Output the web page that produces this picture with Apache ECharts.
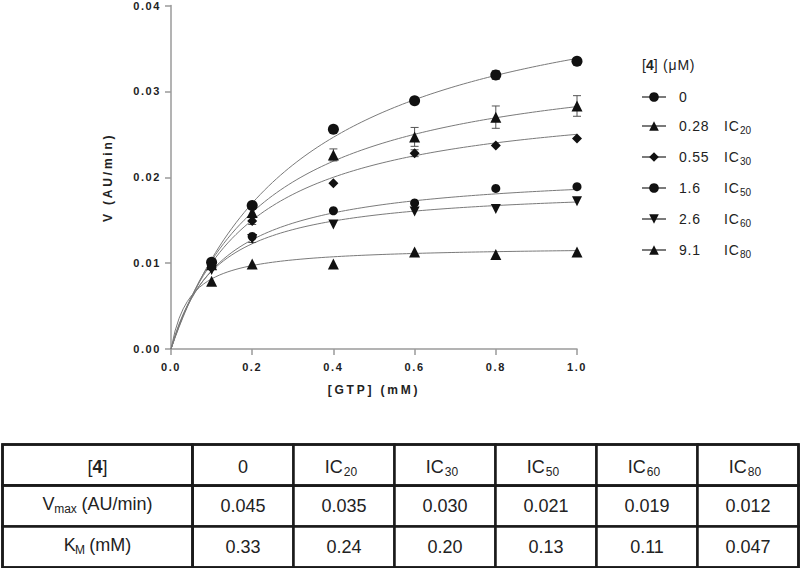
<!DOCTYPE html>
<html>
<head>
<meta charset="utf-8">
<script src="https://cdn.jsdelivr.net/npm/echarts@6/dist/echarts.min.js"></script>
<style>
html, body { margin: 0; padding: 0; background: #fff; }
#c { width: 800px; height: 568px; }
#c text[style*="11px"][style*="bold"] { letter-spacing: 1.6px; }
#c text[style*="12px"][style*="bold"] { letter-spacing: 2.8px; }
#c text[style*="14px"] { letter-spacing: 0.8px; }
</style>
</head>
<body>
<div id="c"></div>
<script>
// ---- data ----
const xGTP = [0.1, 0.2, 0.4, 0.6, 0.8, 1.0];
const concLabels = ['0', '0.28', '0.55', '1.6', '2.6', '9.1'];
const icLabels = ['0', 'IC20', 'IC30', 'IC50', 'IC60', 'IC80'];

const v0  = [0.0101, 0.0167, 0.0256, 0.0289, 0.0319, 0.0335];
const v20 = [0.0098, 0.0159, 0.0226, 0.0247, 0.0270, 0.0283];
const v30 = [0.0095, 0.0149, 0.0193, 0.0228, 0.0237, 0.0245];
const v50 = [0.0096, 0.0131, 0.0161, 0.0170, 0.0187, 0.0189];
const v60 = [0.0092, 0.0128, 0.0145, 0.0160, 0.0163, 0.0172];
const v80 = [0.0079, 0.0099, 0.0099, 0.0113, 0.0110, 0.0113];

const e0  = [0, 0, 0, 0.0002, 0.0005, 0];
const e20 = [0, 0.0004, 0.0007, 0.0011, 0.0013, 0.0012];
const e30 = [0, 0.0004, 0, 0.0004, 0, 0];
const e50 = [0, 0, 0, 0, 0, 0];
const e60 = [0, 0.0004, 0, 0, 0, 0];
const e80 = [0, 0, 0, 0, 0, 0];

// table values (as printed)
const tableHeader = '[4]';
const rowLabels = ['Vmax (AU/min)', 'KM (mM)'];
const vmaxText = ['0.045', '0.035', '0.030', '0.021', '0.019', '0.012'];
const kmText   = ['0.33', '0.24', '0.20', '0.13', '0.11', '0.047'];

const xTicks = [0, 0.2, 0.4, 0.6, 0.8, 1.0];
const yTicks = [0, 0.01, 0.02, 0.03, 0.04];

// ---- styling ----
const values = [v0, v20, v30, v50, v60, v80];
const errors = [e0, e20, e30, e50, e60, e80];
const symbols = ['circle', 'triangle', 'diamond', 'circle', 'triangle', 'triangle'];
const symSizes = [11, 11, 10, 9, 10, 11];
const symRot = [0, 0, 0, 0, 180, 0];
const FONT = 'Liberation Sans, Arial, sans-serif';

// Michaelis-Menten fit curves from the table's Vmax and KM
function fitCurve(i) {
  const vmax = parseFloat(vmaxText[i]);
  const km = parseFloat(kmText[i]);
  const pts = [];
  for (let k = 0; k <= 100; k++) {
    const s = k / 100;
    pts.push([s, vmax * s / (km + s)]);
  }
  return pts;
}

const series = [];
values.forEach((vals, i) => {
  series.push({
    name: concLabels[i],
    type: 'line',
    data: fitCurve(i),
    showSymbol: false,
    symbol: symbols[i],
    symbolRotate: symRot[i],
    lineStyle: { color: '#7a7a7a', width: 1 },
    itemStyle: { color: '#111' },
    silent: true,
    z: 2
  });
});
values.forEach((vals, i) => {
  series.push({
    name: concLabels[i],
    type: 'scatter',
    data: xGTP.map((x, j) => [x, vals[j]]),
    symbol: symbols[i],
    symbolSize: symSizes[i],
    symbolRotate: symRot[i],
    itemStyle: { color: '#111', opacity: 1 },
    silent: true,
    z: 4
  });
});
const errData = [];
values.forEach((vals, i) => {
  xGTP.forEach((x, j) => {
    if (errors[i][j] > 0) errData.push([x, vals[j], errors[i][j]]);
  });
});
series.push({
  type: 'custom',
  data: errData,
  silent: true,
  z: 3,
  renderItem: function (params, api) {
    const x = api.value(0), y = api.value(1), e = api.value(2);
    const top = api.coord([x, y + e]);
    const bot = api.coord([x, y - e]);
    const hw = 4;
    const st = { stroke: '#555', lineWidth: 1 };
    return {
      type: 'group',
      children: [
        { type: 'line', shape: { x1: top[0], y1: top[1], x2: bot[0], y2: bot[1] }, style: st },
        { type: 'line', shape: { x1: top[0] - hw, y1: top[1], x2: top[0] + hw, y2: top[1] }, style: st },
        { type: 'line', shape: { x1: bot[0] - hw, y1: bot[1], x2: bot[0] + hw, y2: bot[1] }, style: st }
      ]
    };
  }
});

function subRich(str) {
  const m = /^(IC)(\d+)$/.exec(str);
  if (m) return '{m|IC}{s|' + m[2] + '}';
  if (str === 'Vmax (AU/min)') return '{m|V}{s|max}{m|(AU/min)}';
  if (str === 'KM (mM)') return '{m|K}{s|M}{m|(mM)}';
  if (str === '[4]') return '{m|[}{b|4}{m|]}';
  return '{m|' + str + '}';
}
const tableRich = {
  m: { fontSize: 18, fontFamily: FONT, color: '#222', lineHeight: 22 },
  b: { fontSize: 18, fontFamily: FONT, color: '#222', fontWeight: 'bold', lineHeight: 22 },
  s: { fontSize: 12, fontFamily: FONT, color: '#222', lineHeight: 12, verticalAlign: 'bottom', padding: [0, 6, 0, 1] }
};
const cellBorder = { borderColor: '#1a1a1a', borderWidth: 2.5, color: '#fff' };
function tableLabel(padTop) {
  return {
    fontSize: 18, fontFamily: FONT, color: '#222',
    align: 'center', verticalAlign: 'middle',
    padding: [padTop, 0, 0, 0],
    rich: tableRich
  };
}

const bodyData = [];
icLabels.forEach((c, j) => {
  bodyData.push({ coord: [j, 0], value: vmaxText[j] });
  bodyData.push({ coord: [j, 1], value: kmText[j] });
});

const option = {
  animation: false,
  backgroundColor: '#fff',
  title: {
    text: '{m|[}{b|4}{m|] (μM)}',
    left: 642, top: 58, padding: 0,
    textStyle: {
      fontSize: 14, fontWeight: 'normal', fontFamily: FONT, color: '#222',
      rich: {
        m: { fontSize: 14, fontFamily: FONT, color: '#222' },
        b: { fontSize: 14, fontFamily: FONT, color: '#222', fontWeight: 'bold' }
      }
    }
  },
  legend: {
    data: concLabels,
    orient: 'vertical',
    left: 641, top: 90,
    itemWidth: 24, itemHeight: 12, itemGap: 15,
    padding: 0,
    selectedMode: false,
    formatter: function (name) {
      const i = concLabels.indexOf(name);
      let s = '{a|' + name + '}';
      if (i > 0) s += '{m|IC}{s|' + icLabels[i].slice(2) + '}';
      return s;
    },
    textStyle: {
      fontSize: 14, fontFamily: FONT, color: '#222',
      rich: {
        a: { fontSize: 14, fontFamily: FONT, color: '#222', width: 45, padding: [0, 0, 0, 8], lineHeight: 18 },
        m: { fontSize: 14, fontFamily: FONT, color: '#222', lineHeight: 18 },
        s: { fontSize: 10, fontFamily: FONT, color: '#222', lineHeight: 9, verticalAlign: 'bottom', padding: [0, 0, 0, 2] }
      }
    }
  },
  grid: { left: 171, top: 3, width: 406, height: 346, containLabel: false },
  xAxis: {
    type: 'value', min: xTicks[0], max: xTicks[xTicks.length - 1], interval: 0.2,
    name: '[GTP] (mM)', nameLocation: 'middle', nameGap: 35,
    nameTextStyle: { fontSize: 12, fontWeight: 'bold', fontFamily: FONT, color: '#222' },
    axisLine: { lineStyle: { color: '#9a9a9a', width: 1.5 } },
    axisTick: { length: 6, lineStyle: { color: '#9a9a9a', width: 1.5 } },
    splitLine: { show: false },
    axisLabel: {
      margin: 12, fontSize: 11, fontWeight: 'bold', fontFamily: FONT, color: '#222',
      formatter: v => v.toFixed(1)
    }
  },
  yAxis: {
    type: 'value', min: yTicks[0], max: yTicks[yTicks.length - 1], interval: 0.01,
    name: 'V (AU/min)', nameLocation: 'middle', nameRotate: 90, nameGap: 57,
    nameTextStyle: { fontSize: 12, fontWeight: 'bold', fontFamily: FONT, color: '#222' },
    axisLine: { show: true, lineStyle: { color: '#9a9a9a', width: 1.5 } },
    axisTick: { show: true, length: 6, lineStyle: { color: '#9a9a9a', width: 1.5 } },
    splitLine: { show: false },
    axisLabel: {
      margin: 10, fontSize: 11, fontWeight: 'bold', fontFamily: FONT, color: '#222',
      formatter: v => v.toFixed(2)
    }
  },
  matrix: {
    left: 2, top: 444, width: 796, height: 123,
    backgroundStyle: { color: '#fff', borderColor: '#1a1a1a', borderWidth: 2.5 },
    x: {
      data: icLabels.map(subRich),
      levelSize: 41,
      label: tableLabel(11),
      itemStyle: cellBorder,
      dividerLineStyle: { color: '#1a1a1a', width: 2.5 }
    },
    y: {
      data: rowLabels.map(subRich),
      levelSize: 190,
      label: tableLabel(7),
      itemStyle: cellBorder,
      dividerLineStyle: { color: '#1a1a1a', width: 2.5 }
    },
    corner: {
      data: [{ coord: [-1, -1], value: subRich(tableHeader) }],
      label: tableLabel(11),
      itemStyle: cellBorder
    },
    body: {
      data: bodyData,
      label: { fontSize: 18, fontFamily: FONT, color: '#222', align: 'center', verticalAlign: 'middle' },
      itemStyle: cellBorder
    }
  },
  series: series
};

const chart = echarts.init(document.getElementById('c'), null, { renderer: 'svg' });
chart.setOption(option);
</script>
</body>
</html>
